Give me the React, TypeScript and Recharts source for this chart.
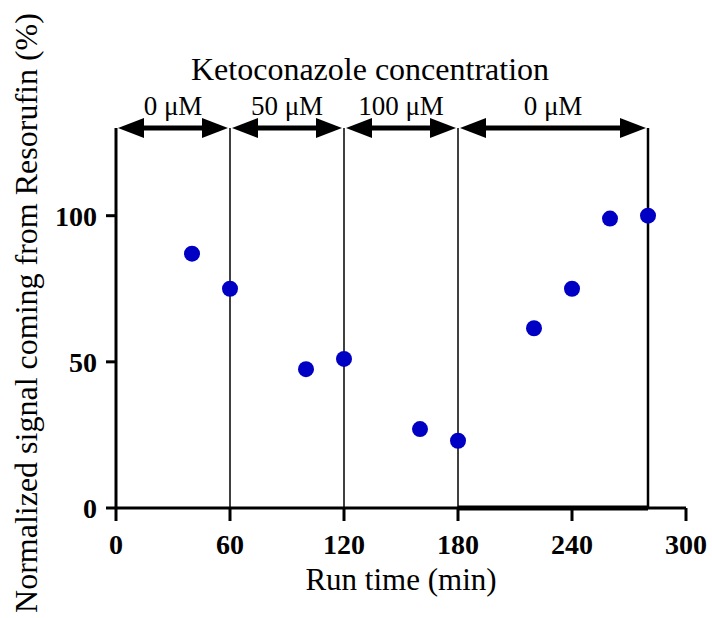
import {
  ReferenceLine,
  Scatter,
  ScatterChart,
  XAxis,
  YAxis,
} from 'recharts';

const runTimes = [40, 60, 100, 120, 160, 180, 220, 240, 260, 280];
const signal = [87, 75, 47.5, 51, 27, 23, 61.5, 75, 99, 100];
const xTicks = [0, 60, 120, 180, 240, 300];
const yTicks = [0, 50, 100];
const phaseBounds = [0, 60, 120, 180, 280];
const phaseLabels = ['0 μM', '50 μM', '100 μM', '0 μM'];

const data = runTimes.map((t, i) => ({ t, v: signal[i] }));

const FONT = '"Liberation Serif", "Times New Roman", serif';
const TOP = 130;

function DoubleArrow(props: any) {
  const { x1, y1, x2 } = props;
  const gap = 2;
  const hl = 26;
  const hw = 10;
  const l = Math.min(x1, x2) + gap;
  const r = Math.max(x1, x2) - gap;
  return (
    <g>
      <line x1={l + hl - 2} y1={y1} x2={r - hl + 2} y2={y1} stroke="#000" strokeWidth={5} />
      <polygon points={`${l},${y1} ${l + hl},${y1 - hw} ${l + hl},${y1 + hw}`} fill="#000" />
      <polygon points={`${r},${y1} ${r - hl},${y1 - hw} ${r - hl},${y1 + hw}`} fill="#000" />
    </g>
  );
}

export default function App() {
  return (
    <div style={{ position: 'absolute', left: 0, top: 0, width: 712, height: 618, background: '#fff' }}>
      <div
        style={{
          position: 'absolute',
          left: 0,
          top: 53,
          width: 740,
          textAlign: 'center',
          fontFamily: FONT,
          fontSize: 32,
          lineHeight: '32px',
          color: '#000',
        }}
      >
        Ketoconazole concentration
      </div>
      <ScatterChart width={712} height={618} margin={{ top: 128, right: 26, bottom: 0, left: 0 }}>
        <XAxis
          type="number"
          dataKey="t"
          domain={[0, 300]}
          ticks={xTicks}
          height={110}
          tickSize={13}
          tickMargin={13}
          axisLine={{ stroke: '#000', strokeWidth: 3 }}
          tickLine={{ stroke: '#000', strokeWidth: 3 }}
          tick={{ fill: '#000', fontFamily: FONT, fontWeight: 'bold', fontSize: 28 }}
          label={{
            content: (p: any) => {
              const vb = p.viewBox;
              return (
                <text
                  x={vb.x + vb.width / 2}
                  y={vb.y + 82}
                  textAnchor="middle"
                  fontFamily={FONT}
                  fontSize={31}
                  fill="#000"
                >
                  Run time (min)
                </text>
              );
            },
          }}
        />
        <YAxis
          type="number"
          dataKey="v"
          domain={[0, TOP]}
          ticks={yTicks}
          width={116}
          tickSize={10}
          tickMargin={9}
          axisLine={{ stroke: '#000', strokeWidth: 3 }}
          tickLine={{ stroke: '#000', strokeWidth: 3 }}
          tick={{ fill: '#000', fontFamily: FONT, fontWeight: 'bold', fontSize: 28 }}
          label={{
            content: (p: any) => {
              const vb = p.viewBox;
              const cy = vb.y + vb.height / 2 - 5;
              return (
                <text
                  x={37}
                  y={cy}
                  transform={`rotate(-90, 37, ${cy})`}
                  textAnchor="middle"
                  fontFamily={FONT}
                  fontSize={32}
                  fill="#000"
                >
                  Normalized signal coming from Resorufin (%)
                </text>
              );
            },
          }}
        />
        {phaseBounds.slice(1).map((b, i) => (
          <ReferenceLine
            key={`v${b}`}
            x={b}
            stroke="#000"
            strokeWidth={i === phaseBounds.length - 2 ? 2.5 : 1.5}
          />
        ))}
        <ReferenceLine
          segment={[
            { x: phaseBounds[3], y: 0 },
            { x: phaseBounds[4], y: 0 },
          ]}
          stroke="#000"
          strokeWidth={5}
        />
        {phaseLabels.map((lab, i) => (
          <ReferenceLine
            key={`a${i}`}
            segment={[
              { x: phaseBounds[i], y: TOP },
              { x: phaseBounds[i + 1], y: TOP },
            ]}
            shape={DoubleArrow}
            label={{
              value: lab,
              position: 'top',
              offset: 13,
              fill: '#000',
              fontFamily: FONT,
              fontSize: 27,
            }}
          />
        ))}
        <Scatter
          data={data}
          isAnimationActive={false}
          shape={(p: any) => <circle cx={p.cx} cy={p.cy} r={8} fill="#0000c4" />}
        />
      </ScatterChart>
    </div>
  );
}
